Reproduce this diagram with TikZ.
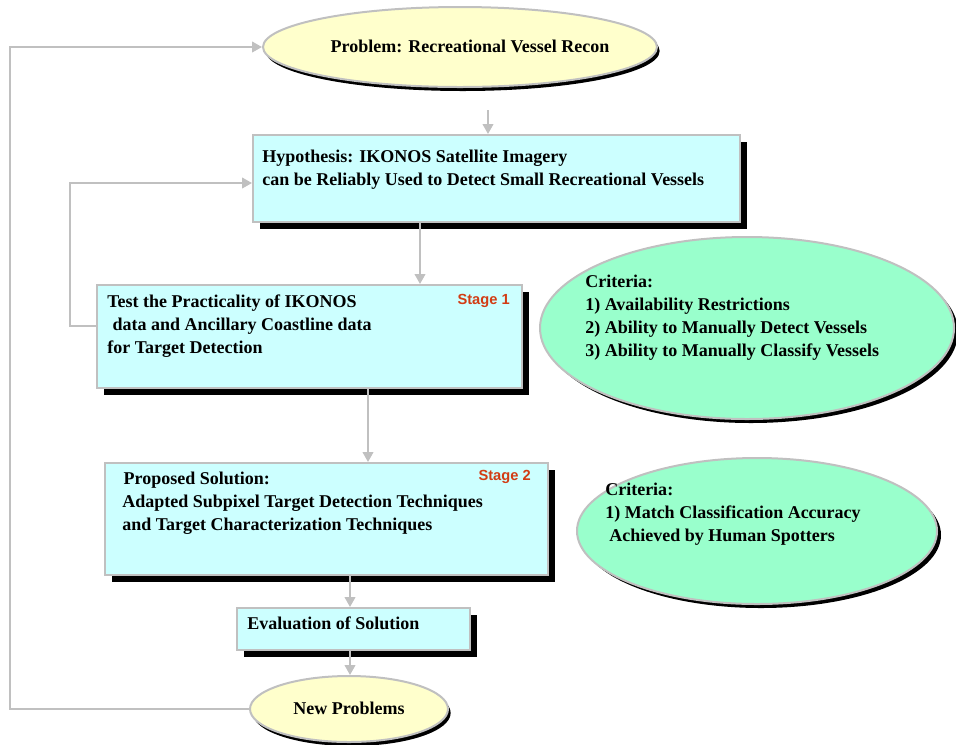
\documentclass[tikz,border=0pt]{standalone}
\usepackage{fontspec}
\setmainfont{Liberation Serif}
\newfontfamily\stagefont{Liberation Sans}
\usetikzlibrary{arrows.meta,shapes.geometric,shadows}
\definecolor{boxfill}{RGB}{204,255,255}
\definecolor{yelfill}{RGB}{255,255,204}
\definecolor{grnfill}{RGB}{153,255,204}
\definecolor{linegray}{RGB}{192,192,192}
\definecolor{stagered}{RGB}{210,60,20}
\tikzset{
  boxstyle/.style={draw=linegray, line width=1.5pt, fill=boxfill, rectangle, inner sep=0pt,
    drop shadow={shadow xshift=5pt, shadow yshift=-5pt, fill=black, opacity=1}},
  yelell/.style={draw=linegray, line width=1.5pt, fill=yelfill, ellipse, inner sep=0pt,
    drop shadow={shadow xshift=2pt, shadow yshift=-3pt, fill=black, opacity=1}},
  grnell/.style={draw=linegray, line width=1.5pt, fill=grnfill, ellipse, inner sep=0pt,
    drop shadow={shadow xshift=3pt, shadow yshift=-3pt, fill=black, opacity=1}},
  txt/.style={font=\bfseries\fontsize{13.5}{17.25}\selectfont, align=left, inner sep=0pt, anchor=north west},
  stagelbl/.style={font=\stagefont\bfseries\fontsize{11}{13}\selectfont, text=stagered, inner sep=0pt, anchor=north east},
  conn/.style={draw=linegray, line width=1.5pt},
  arr/.style={conn, -{Triangle[length=7.5pt, width=8pt]}}
}
\begin{document}
\begin{tikzpicture}[x=0.75pt, y=-0.75pt]
\useasboundingbox (0,0) rectangle (956,744);
% shapes
\node[yelell, minimum width=394*0.75pt, minimum height=80*0.75pt] (prob) at (460,47) {};
\node[boxstyle, minimum width=487*0.75pt, minimum height=87*0.75pt] (hyp) at (496.5,178.5) {};
\node[boxstyle, minimum width=425*0.75pt, minimum height=103*0.75pt] (test) at (309.5,336.5) {};
\node[grnell, minimum width=414*0.75pt, minimum height=182*0.75pt] (crit1) at (747,328) {};
\node[boxstyle, minimum width=443*0.75pt, minimum height=112*0.75pt] (sol) at (326.5,519) {};
\node[grnell, minimum width=360*0.75pt, minimum height=146*0.75pt] (crit2) at (757,531) {};
\node[boxstyle, minimum width=233*0.75pt, minimum height=42*0.75pt] (eval) at (353.5,629) {};
\node[yelell, minimum width=198*0.75pt, minimum height=66*0.75pt] (newp) at (349,709) {};
% texts
\node[txt, anchor=center] (probt) at (470,46) {Problem: Recreational Vessel Recon};
\node[txt] (hypt) at (262,150) {Hypothesis: IKONOS Satellite Imagery\\can be Reliably Used to Detect Small Recreational Vessels};
\node[txt] (testt) at (107,295) {Test the Practicality of IKONOS\\\hspace*{4pt}data and Ancillary Coastline data\\for Target Detection};
\node[stagelbl] (st1) at (510,294) {Stage 1};
\node[txt] (crit1t) at (585,275) {Criteria:\\1) Availability Restrictions\\2) Ability to Manually Detect Vessels\\3) Ability to Manually Classify Vessels};
\node[txt] (solt) at (122,472) {\hspace*{1pt}Proposed Solution:\\Adapted Subpixel Target Detection Techniques\\and Target Characterization Techniques};
\node[stagelbl] (st2) at (531,470) {Stage 2};
\node[txt] (crit2t) at (605,483) {Criteria:\\1) Match Classification Accuracy\\\hspace*{3pt}Achieved by Human Spotters};
\node[txt] (evalt) at (247,617) {Evaluation of Solution};
\node[txt, anchor=center] (newpt) at (349,708) {New Problems};
% connector coordinates
\coordinate (c1) at (488,110);
\coordinate (c2) at (420,0);
\coordinate (c3) at (368,0);
\coordinate (c4) at (350,0);
\coordinate (lx1) at (70,0);
\coordinate (lx2) at (10,0);
% connectors
\draw[arr] (c1) -- (c1 |- hyp.north);
\draw[arr] (c2 |- hyp.south) -- (c2 |- test.north);
\draw[arr] (c3 |- test.south) -- (c3 |- sol.north);
\draw[arr] (c4 |- sol.south) -- (c4 |- eval.north);
\draw[arr] (c4 |- eval.south) -- (c4 |- newp.north);
\draw[arr] (test.west |- 0,326) -- (lx1 |- 0,326) -- (lx1 |- 0,183) -- (hyp.west |- 0,183);
\draw[arr] (newp.west) -- (lx2 |- newp.west) -- (lx2 |- prob.west) -- (prob.west);
\end{tikzpicture}
\end{document}
